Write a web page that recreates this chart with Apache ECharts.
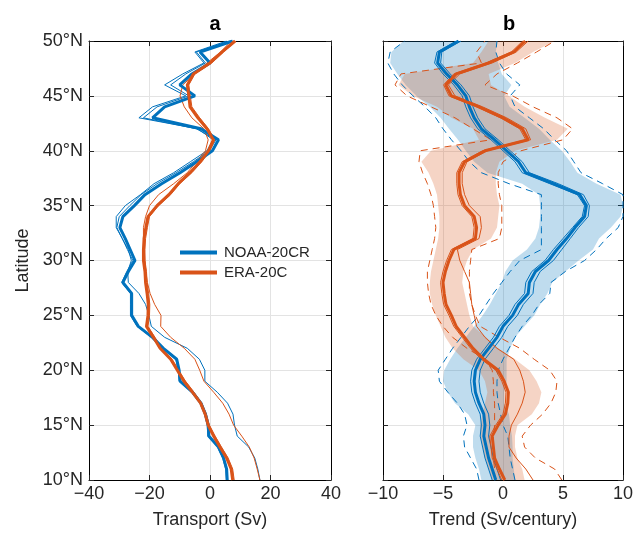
<!DOCTYPE html>
<html>
<head>
<meta charset="utf-8">
<script src="https://cdn.jsdelivr.net/npm/echarts@6/dist/echarts.min.js"></script>
<style>
  html, body { margin: 0; padding: 0; background: #fff; }
  #main { width: 636px; height: 534px; }
</style>
</head>
<body>
<div id="main"></div>
<script>
// latitude levels (°N), shared by every profile below
const lats = [10, 11, 12, 13, 14, 15, 16, 17, 18, 19, 20, 21, 22, 23, 24, 25, 26, 27, 28, 29, 30,
  31, 32, 33, 34, 35, 36, 37, 38, 39, 40, 41, 42, 43, 44, 45, 46, 47, 48, 49, 50];

// panel a: transport (Sv)
const noaaA = [5.7, 5.5, 4.5, 2.8, -0.4, -0.6, -1.5, -3.0, -5.8, -9.9, -10.2, -11, -15.4, -19, -23.7, -25.9, -25.9, -25.9, -28.8, -27, -24.8,
  -26.4, -28, -29.8, -28.8, -25, -21.5, -16, -9.9, -4.4, 0.8, 2.8, -3, -19, -15, -5, -10, -6, 0, -3.3, 7.5];
const noaaA1 = [16.5, 15.8, 14.8, 12.8, 9, 8.1, 7.6, 5.8, 2.4, -1.7, -1.7, -3.5, -7.5, -15, -19.4, -20.2, -21.3, -23.5, -27, -27.2, -26,
  -27, -29, -31, -31, -28, -23, -18.5, -12, -6.5, -1, 1, -4, -23.5, -19, -8, -15, -9, -2, -5, 5.5];
const noaaA2 = [5.4, 5.2, 4.2, 2.5, -0.7, -0.9, -1.8, -3.3, -6.1, -10.2, -10.5, -11.3, -15.8, -19.4, -24.1, -26.3, -26.3, -26.3, -29.2, -27.5, -25.5,
  -27.3, -29, -30.8, -30, -26.5, -22.8, -17.5, -11.2, -5.5, -0.3, 2, -4.5, -22, -17.5, -7, -13, -8, -1.5, -4.5, 6.5];
const eraA = [7.5, 7.0, 5.5, 3.3, 1.2, -0.6, -1.6, -3.1, -5.8, -8.6, -10.8, -13, -16.5, -18.7, -21, -20.5, -20.4, -20.8, -21.3, -21.5, -22,
  -22, -21.8, -21.2, -20.5, -17.5, -13.6, -10.5, -6.6, -3.3, -0.5, 1.1, -1, -4, -6.6, -7, -7.5, -5.5, 0, 4, 8.3];
const eraA1 = [16.5, 15.6, 14.6, 13, 10.5, 7.8, 6.3, 4.2, 1.2, -2, -3.4, -5, -8.5, -13, -16.3, -16.2, -18.3, -19.8, -20.7, -21.2, -21.5,
  -21.7, -22, -22, -21.3, -20, -17, -12, -7.5, -4.5, -1.5, -0.6, -2, -6, -8.5, -9.9, -9, -5, -1, 3.5, 7];
const eraA2 = [8, 7.5, 6, 3.8, 1.7, -0.2, -1.2, -2.7, -5.3, -8.1, -10.3, -12.5, -16, -18.2, -20.5, -20, -19.9, -20.3, -20.8, -21, -21.5,
  -21.5, -21.3, -20.7, -20, -17, -13, -10, -6, -2.7, 0, 1.6, -0.5, -3.4, -6, -6.5, -7, -5, 0.6, 4.5, 8.6];

// panel b: trend (Sv/century)
const noaaB = [-0.6, -0.9, -1.2, -1.4, -1.6, -1.5, -1.6, -2.0, -2.3, -2.4, -2.3, -1.9, -1.2, -0.5, 0.0, 0.8, 1.3, 2.1, 2.2, 2.7, 3.8,
  4.5, 5.3, 6.0, 6.8, 6.95, 6.4, 4.2, 1.9, 1.3, 0.3, -0.7, -1.8, -2.4, -2.8, -3.1, -3.8, -4.7, -5.45, -5.3, -3.7];
const noaaB1 = [-0.9, -1.2, -1.5, -1.7, -1.9, -1.8, -1.9, -2.3, -2.6, -2.7, -2.6, -2.2, -1.5, -0.8, -0.3, 0.5, 1.0, 1.8, 1.9, 2.4, 3.5,
  4.2, 5.0, 5.8, 6.6, 6.8, 6.2, 3.9, 1.6, 1.0, 0.0, -1.0, -2.1, -2.7, -3.1, -3.4, -4.1, -5.0, -5.7, -5.5, -3.9];
const noaaB2 = [-0.2, -0.5, -0.8, -1.0, -1.2, -1.1, -1.2, -1.6, -1.9, -2.0, -1.9, -1.5, -0.8, -0.1, 0.4, 1.2, 1.7, 2.5, 2.6, 3.1, 4.2,
  4.9, 5.6, 6.3, 7.1, 7.2, 6.7, 4.6, 2.2, 1.6, 0.6, -0.4, -1.5, -2.1, -2.5, -2.8, -3.5, -4.4, -5.2, -5.1, -3.5];
const noaaBandLo = [-1.8, -2.0, -2.3, -2.5, -2.5, -2.3, -2.9, -4.0, -4.6, -5.0, -4.9, -4.4, -3.8, -3.1, -2.4, -1.7, -1.1, -0.6, -0.1, 0.2, 0.8,
  2.0, 2.7, 3.0, 3.1, 3.1, 3.0, 1.6, -1.3, -2.4, -3.1, -3.75, -4.5, -5.2, -6.1, -7.2, -8.1, -8.8, -9.4, -9.3, -8.3];
const noaaBandHi = [1.0, 0.9, 0.8, 0.8, 0.75, 0.6, 0.5, 0.1, 0.1, 0.3, 0.3, 0.3, 0.6, 1.0, 1.8, 2.6, 3.1, 3.7, 4.1, 5.2, 6.3,
  7.5, 8.0, 9.0, 9.8, 10, 9.8, 7.8, 6.2, 5.6, 4.9, 3.9, 3.0, 1.8, 0.55, 0.1, 0.7, -0.1, -0.4, -0.6, -0.5];
const noaaDashLo = [-2.0, -2.2, -2.7, -3.2, -3.3, -3.0, -3.2, -3.8, -4.6, -5.3, -5.4, -4.8, -4.2, -3.5, -2.8, -2.0, -1.4, -0.8, -0.1, 0.6, 1.4,
  3.2, 3.2, 3.2, 3.2, 3.2, 3.2, 0.5, -1.8, -2.8, -3.5, -4.3, -5.0, -5.6, -6.5, -7.5, -8.4, -9.1, -9.6, -9.4, -8.2];
const noaaDashHi = [1.0, 0.8, 0.6, 0.5, 0.4, 0.0, -0.2, -0.4, -0.5, -0.5, -0.4, 0.0, 0.5, 1.0, 1.6, 2.4, 3.0, 3.9, 4.0, 5.2, 6.8,
  7.8, 8.6, 9.6, 10, 10, 10, 8.3, 6.5, 5.9, 5.3, 4.3, 3.4, 2.2, 1.0, 0.6, 1.4, 0.3, -0.3, -0.6, -0.5];

const eraB = [0.15, -0.3, -0.7, -0.8, -0.9, -0.4, 0.2, 0.4, 0.45, 0.1, -0.4, -1.6, -2.5, -3.2, -3.9, -4.3, -4.75, -4.9, -5.0, -4.8, -4.5,
  -4.1, -2.3, -2.2, -2.4, -3.2, -3.55, -3.66, -3.66, -3.2, -1.5, 2.1, 1.6, 0.0, -2.0, -4.3, -4.77, -3.9, -1.2, 0.9, 1.85];
const eraB1 = [-0.1, -0.5, -0.9, -1.0, -1.1, -0.6, 0.0, 0.2, 0.25, -0.1, -0.6, -1.8, -2.7, -3.4, -4.1, -4.5, -4.95, -5.1, -5.2, -5.0, -4.7,
  -4.3, -2.5, -2.4, -2.6, -3.4, -3.75, -3.85, -3.85, -3.4, -1.7, 1.9, 1.4, -0.2, -2.2, -4.5, -4.95, -4.1, -1.4, 0.7, 1.65];
const eraB2 = [2.5, 1.9, 1.1, 0.5, 0.5, 0.7, 1.2, 1.6, 1.85, 1.7, 1.4, 0.9, -0.5, -1.5, -2.2, -2.4, -2.6, -2.7, -2.8, -3.2, -3.6,
  -3.8, -2.0, -1.8, -1.9, -2.8, -3.2, -3.4, -3.4, -3.0, -1.3, 2.3, 1.9, 0.3, -1.7, -4.0, -4.55, -3.6, -0.9, 1.1, 2.1];
const eraBandLo = [-0.9, -1.2, -1.5, -1.7, -1.9, -1.9, -1.7, -1.5, -1.3, -1.5, -2.0, -3.3, -4.2, -4.8, -5.2, -5.6, -5.9, -6.1, -6.1, -6.0, -5.8,
  -5.6, -5.4, -5.3, -5.3, -5.4, -5.5, -5.8, -6.2, -6.8, -6.0, -2.0, -2.5, -4.3, -5.5, -7.5, -8.7, -8.2, -2.5, -1.8, -1.2];
const eraBandHi = [1.8, 1.6, 1.2, 1.0, 1.0, 1.2, 2.4, 3.0, 3.2, 2.8, 2.2, 1.0, -0.4, -1.4, -2.5, -2.8, -3.0, -3.2, -3.4, -3.3, -3.0,
  -2.5, -1.0, -0.5, -0.4, -0.3, -0.5, -0.6, -0.6, -0.3, 1.0, 4.5, 5.4, 3.5, 1.8, 0.5, -1.0, -1.2, 1.0, 2.5, 4.3];
const eraDashLo = [-0.7, -0.7, -0.8, -0.8, -0.8, -0.7, -0.7, -0.7, -0.8, -0.8, -0.9, -1.5, -3.0, -4.2, -5.0, -5.6, -6.0, -6.2, -6.3, -6.3, -6.1,
  -5.9, -5.7, -5.6, -5.7, -5.8, -6.0, -6.3, -6.7, -7.0, -6.9, -1.0, -2.5, -4.0, -6.0, -8.0, -9.0, -8.5, -1.8, -2.2, -1.5];
const eraDashHi = [4.9, 4.3, 2.7, 1.8, 1.6, 2.3, 3.3, 4.0, 4.4, 4.5, 3.9, 2.6, 1.4, -0.3, -1.9, -2.3, -2.6, -2.8, -2.8, -2.8, -2.7,
  -2.6, -0.3, -0.1, -0.1, -0.1, -0.3, -0.4, -0.4, 0.0, 1.5, 5.0, 5.8, 4.5, 2.5, 0.8, -1.5, -0.5, 1.2, 2.8, 4.3];

const BLUE = '#0072BD';
const ORANGE = '#D95319';
const FONT = 'Liberation Sans, Arial, Helvetica, sans-serif';
const TXT = '#262626';

function pairs(xs) {
  return lats.map((lat, i) => [xs[i], lat]);
}

function minus(v) {
  return v < 0 ? '\u2212' + Math.abs(v) : String(v);
}

function profile(name, xs, color, width, panel, dashed) {
  return {
    name: name,
    type: 'line',
    xAxisIndex: panel * 2,
    yAxisIndex: panel * 2,
    data: pairs(xs),
    showSymbol: false,
    symbol: 'none',
    silent: true,
    lineStyle: { color: color, width: width, type: dashed ? [7, 5] : 'solid' },
    itemStyle: { color: color },
    z: width > 2 ? 4 : 3
  };
}

// shaded range between lo and hi, drawn through the axes' own scales
function band(lo, hi, fill, panel) {
  return {
    type: 'custom',
    xAxisIndex: panel * 2,
    yAxisIndex: panel * 2,
    silent: true,
    clip: true,
    data: pairs(lo),
    renderItem: function (params, api) {
      if (params.dataIndex !== 0) return null;
      const pts = [];
      for (let i = 0; i < lats.length; i++) pts.push(api.coord([lo[i], lats[i]]));
      for (let i = lats.length - 1; i >= 0; i--) pts.push(api.coord([hi[i], lats[i]]));
      return { type: 'polygon', shape: { points: pts }, style: { fill: fill } };
    },
    z: 1
  };
}

const chart = echarts.init(document.getElementById('main'), null, { renderer: 'canvas' });

const tickStyle = { show: true, inside: true, length: 5, lineStyle: { color: TXT, width: 1 } };
const lineStyleAx = { show: true, onZero: false, lineStyle: { color: '#000', width: 1 } };
const gridLine = { show: true, lineStyle: { color: '#e3e3e3', width: 1 } };
const labelStyle = { fontFamily: FONT, fontSize: 18, color: TXT };

function xAxes(gi, min, max, step, title) {
  return [
    {
      gridIndex: gi, type: 'value', min: min, max: max, interval: step, position: 'bottom',
      axisLine: lineStyleAx, axisTick: tickStyle, splitLine: gridLine,
      axisLabel: Object.assign({ margin: 5, formatter: minus }, labelStyle),
      name: title, nameLocation: 'middle', nameGap: 31,
      nameTextStyle: { fontFamily: FONT, fontSize: 18, color: TXT }
    },
    {
      gridIndex: gi, type: 'value', min: min, max: max, interval: step, position: 'top',
      axisLine: lineStyleAx, axisTick: tickStyle, splitLine: { show: false },
      axisLabel: { show: false }
    }
  ];
}

function yAxes(gi, showLabels) {
  return [
    {
      gridIndex: gi, type: 'value', min: 10, max: 50, interval: 5, position: 'left',
      axisLine: lineStyleAx, axisTick: tickStyle, splitLine: gridLine,
      axisLabel: Object.assign({ show: showLabels, margin: 6, formatter: v => v + '°N' }, labelStyle),
      name: showLabels ? 'Latitude' : '', nameLocation: 'middle', nameGap: 57,
      nameTextStyle: { fontFamily: FONT, fontSize: 18, color: TXT }
    },
    {
      gridIndex: gi, type: 'value', min: 10, max: 50, interval: 5, position: 'right',
      axisLine: lineStyleAx, axisTick: tickStyle, splitLine: { show: false },
      axisLabel: { show: false }
    }
  ];
}

const option = {
  animation: false,
  backgroundColor: '#fff',
  textStyle: { fontFamily: FONT },
  title: [
    { text: 'a', left: 210, top: 9, textAlign: 'center', textStyle: { fontFamily: FONT, fontSize: 20, fontWeight: 'bold', color: '#000' } },
    { text: 'b', left: 504, top: 9, textAlign: 'center', textStyle: { fontFamily: FONT, fontSize: 20, fontWeight: 'bold', color: '#000' } }
  ],
  legend: {
    data: ['NOAA-20CR', 'ERA-20C'],
    orient: 'vertical',
    left: 175,
    top: 240,
    itemWidth: 37,
    itemHeight: 4,
    itemGap: 5,
    icon: 'rect',
    selectedMode: false,
    textStyle: { fontFamily: FONT, fontSize: 15, color: TXT, padding: [0, 0, 0, 2] }
  },
  grid: [
    { left: 89, top: 41, width: 242, height: 441 },
    { left: 383, top: 41, width: 242, height: 441 }
  ],
  xAxis: xAxes(0, -40, 40, 20, 'Transport (Sv)').concat(xAxes(1, -10, 10, 5, 'Trend (Sv/century)')),
  yAxis: yAxes(0, true).concat(yAxes(1, false)),
  series: [
    // panel a
    profile('noaa-a1', noaaA1, BLUE, 1, 0),
    profile('noaa-a2', noaaA2, BLUE, 1, 0),
    profile('era-a1', eraA1, ORANGE, 1, 0),
    profile('era-a2', eraA2, ORANGE, 1, 0),
    profile('NOAA-20CR', noaaA, BLUE, 3, 0),
    profile('ERA-20C', eraA, ORANGE, 3, 0),
    // panel b
    band(noaaBandLo, noaaBandHi, 'rgba(0,114,189,0.25)', 1),
    band(eraBandLo, eraBandHi, 'rgba(217,83,25,0.25)', 1),
    profile('noaa-dlo', noaaDashLo, BLUE, 1, 1, true),
    profile('noaa-dhi', noaaDashHi, BLUE, 1, 1, true),
    profile('era-dlo', eraDashLo, ORANGE, 1, 1, true),
    profile('era-dhi', eraDashHi, ORANGE, 1, 1, true),
    profile('noaa-b1', noaaB1, BLUE, 1, 1),
    profile('noaa-b2', noaaB2, BLUE, 1, 1),
    profile('era-b1', eraB1, ORANGE, 1, 1),
    profile('era-b2', eraB2, ORANGE, 1, 1),
    profile('noaa-b', noaaB, BLUE, 3, 1),
    profile('era-b', eraB, ORANGE, 3, 1)
  ]
};

chart.setOption(option);
</script>
</body>
</html>
